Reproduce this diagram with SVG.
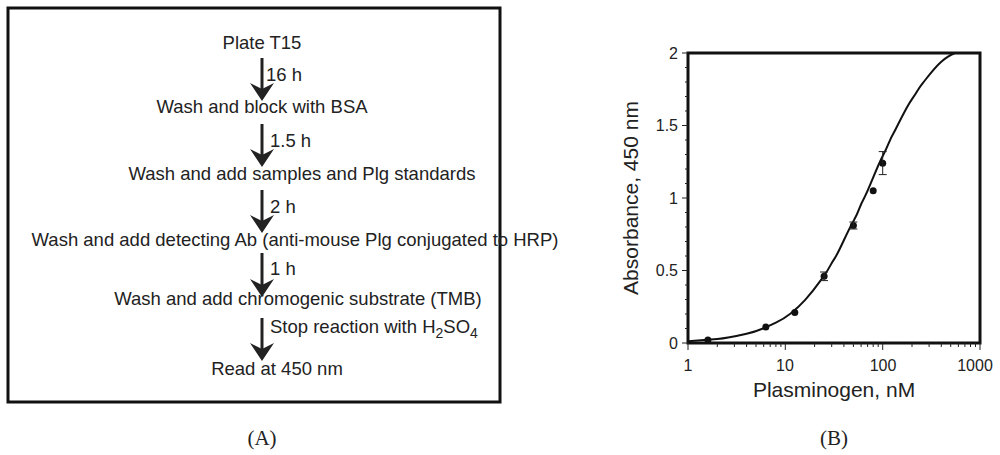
<svg xmlns="http://www.w3.org/2000/svg" width="1000" height="455" viewBox="0 0 1000 455">
<style>
.t{font-family:"Liberation Sans",Arial,sans-serif;font-size:18.5px;fill:#222}
.ax{font-family:"Liberation Sans",Arial,sans-serif;font-size:16px;fill:#222}
.cap{font-family:"Liberation Serif","Times New Roman",serif;font-size:21px;fill:#222}
.sh{stroke:#222;stroke-width:3}
.hd{fill:#222}
.tk{stroke:#222;stroke-width:1}
</style>
<defs>
<path id="ah" d="M0,0 L-12,-18 L0,-12 L12,-18 Z"/>
</defs>
<rect x="8" y="8" width="492" height="394" fill="none" stroke="#111" stroke-width="3"/>
<g id="n1"><text class="t" x="262" y="49" text-anchor="middle">Plate T15</text></g>
<g id="n2"><text class="t" x="262" y="113" text-anchor="middle">Wash and block with BSA</text></g>
<g id="n3"><text class="t" x="302" y="180" text-anchor="middle">Wash and add samples and Plg standards</text></g>
<g id="n4"><text class="t" x="295" y="246" text-anchor="middle">Wash and add detecting Ab (anti-mouse Plg conjugated to HRP)</text></g>
<g id="n5"><text class="t" x="298" y="305" text-anchor="middle">Wash and add chromogenic substrate (TMB)</text></g>
<g id="n6"><text class="t" x="277" y="375" text-anchor="middle">Read at 450 nm</text></g>
<g id="connectors">
<line class="sh" x1="262" y1="58" x2="262" y2="92"/><use href="#ah" class="hd" x="262" y="101"/>
<line class="sh" x1="262" y1="124" x2="262" y2="158"/><use href="#ah" class="hd" x="262" y="167"/>
<line class="sh" x1="262" y1="190" x2="262" y2="224"/><use href="#ah" class="hd" x="262" y="233"/>
<line class="sh" x1="262" y1="253" x2="262" y2="288"/><use href="#ah" class="hd" x="262" y="297"/>
<line class="sh" x1="262" y1="318" x2="262" y2="352"/><use href="#ah" class="hd" x="262" y="361"/>
<text class="t" x="266" y="81">16 h</text>
<text class="t" x="270" y="147">1.5 h</text>
<text class="t" x="270" y="213">2 h</text>
<text class="t" x="270" y="275">1 h</text>
<text class="t" x="270" y="333">Stop reaction with H<tspan font-size="14" dy="5">2</tspan><tspan dy="-5">SO</tspan><tspan font-size="14" dy="5">4</tspan></text>
</g>
<g id="plot">
<rect x="688" y="53" width="292" height="290" fill="none" stroke="#111" stroke-width="3"/>
<path class="tk" d="M682,343h6M682,270.5h6M682,198h6M682,125.5h6M682,53h6M685,328.5h3M685,314h3M685,299.5h3M685,285h3M685,256h3M685,241.5h3M685,227h3M685,212.5h3M685,183.5h3M685,169h3M685,154.5h3M685,140h3M685,111h3M685,96.5h3M685,82h3M685,67.5h3"/>
<path class="tk" d="M688,343v7M785.3,343v7M882.7,343v7M980,343v7M717.3,343v4M734.4,343v4M746.6,343v4M756,343v4M763.7,343v4M770.2,343v4M775.9,343v4M780.9,343v4M814.6,343v4M831.7,343v4M843.9,343v4M853.4,343v4M861.1,343v4M867.6,343v4M873.2,343v4M878.2,343v4M912,343v4M929.1,343v4M941.3,343v4M950.7,343v4M958.4,343v4M964.9,343v4M970.5,343v4M975.5,343v4"/>
<g class="ax" text-anchor="end">
<text x="678" y="349">0</text><text x="678" y="276">0.5</text><text x="678" y="204">1</text><text x="678" y="131">1.5</text><text x="678" y="59">2</text>
</g>
<g class="ax" text-anchor="middle">
<text x="688" y="371">1</text><text x="785" y="371">10</text><text x="883" y="371">100</text><text x="975" y="371">1000</text>
</g>
<text x="834" y="397" text-anchor="middle" font-family="Liberation Sans,Arial,sans-serif" font-size="21" fill="#222">Plasminogen, nM</text>
<text transform="translate(638,198) rotate(-90)" text-anchor="middle" font-family="Liberation Sans,Arial,sans-serif" font-size="21" fill="#222">Absorbance,  450 nm</text>
<path d="M688,341.3 C700,340.3 710,339.5 717.3,339 S735,336.5 746.6,333.8 S765,328 775.9,322.7 S795,311 805.2,299.8 S818,284 824.1,275.6 S830,265 834.5,258.6 S847,232 853.4,221.2 S859,207 863.8,198.7 S876,169 882.7,156 S889,141 893.1,134 S905,109 912,99.1 S918,89 922.4,83.6 S934,68 941.3,61.7 S950,55 955,53" fill="none" stroke="#111" stroke-width="2"/>
<g fill="#111">
<circle cx="707.9" cy="340" r="3.5"/><circle cx="765.8" cy="327" r="3.5"/><circle cx="794.8" cy="312.5" r="3.5"/><circle cx="824.1" cy="276.3" r="3.5"/><circle cx="853.4" cy="225.5" r="3.5"/><circle cx="873.2" cy="190.8" r="3.5"/><circle cx="882.7" cy="163.2" r="3.5"/>
</g>
<path class="tk" stroke-width="1.5" d="M824.1,272v8.6M820,272h8M820,280.6h8M853.4,222v7M849.4,222h8M849.4,229h8M882.7,151.6v23M878.7,151.6h8M878.7,174.6h8"/>
</g>
<text class="cap" x="262" y="445" text-anchor="middle">(A)</text>
<text class="cap" x="834" y="445" text-anchor="middle">(B)</text>
</svg>
